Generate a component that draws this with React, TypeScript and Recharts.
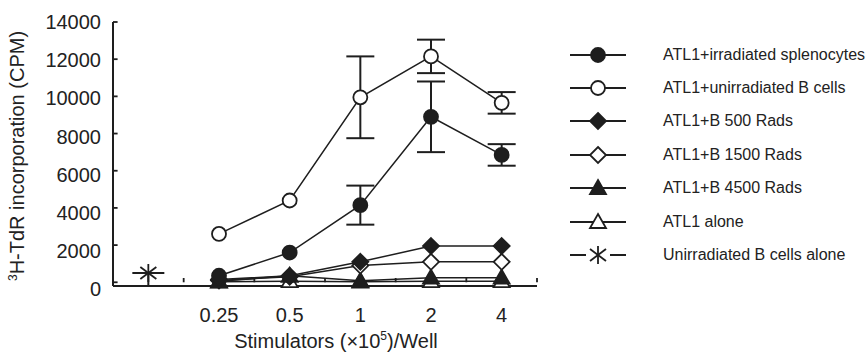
import React from "react"
import { LineChart, Line, XAxis, YAxis, ErrorBar, ReferenceLine, Label } from "recharts"

const doses = ["0.25", "0.5", "1", "2", "4"]
const doseX = [1.5, 2.5, 3.5, 4.5, 5.5]
const yTicks = [0, 2000, 4000, 6000, 8000, 10000, 12000, 14000]

const irradiatedSplenocytes = [350, 1600, 4150, 8900, 6850]
const irradiatedSplenocytesErr = [0, 0, 1050, 1900, 580]
const unirradiatedB = [2600, 4400, 9950, 12150, 9650]
const unirradiatedBErr = [0, 0, 2200, 900, 580]
const b500 = [150, 350, 1100, 1950, 1950]
const b1500 = [100, 300, 900, 1100, 1100]
const b4500 = [50, 350, 80, 250, 250]
const atl1Alone = [30, 60, 30, 60, 60]
const bAlone = [500]

const INK = "#1e1e1e"
const FONT = "'Liberation Sans', Arial, sans-serif"

const rows = doseX.map((x, i) => ({
  x,
  irr: irradiatedSplenocytes[i],
  irrErr: irradiatedSplenocytesErr[i],
  unirr: unirradiatedB[i],
  unirrErr: unirradiatedBErr[i],
  b500: b500[i],
  b1500: b1500[i],
  b4500: b4500[i],
  alone: atl1Alone[i],
}))
const starRows = bAlone.map((y) => ({ x: 0.5, y, err: [700, 0] }))

type Kind = "circle" | "openCircle" | "diamond" | "openDiamond" | "triangle" | "openTriangle" | "star"

function Marker({ kind, cx, cy }: { kind: Kind; cx: number; cy: number }) {
  const fill = kind.startsWith("open") ? "#fff" : INK
  if (kind === "circle" || kind === "openCircle")
    return <circle cx={cx} cy={cy} r={7} fill={fill} stroke={INK} strokeWidth={1.8} />
  if (kind === "diamond" || kind === "openDiamond")
    return (
      <polygon
        points={`${cx},${cy - 8} ${cx + 8},${cy} ${cx},${cy + 8} ${cx - 8},${cy}`}
        fill={fill}
        stroke={INK}
        strokeWidth={1.8}
      />
    )
  if (kind === "triangle" || kind === "openTriangle")
    return (
      <polygon
        points={`${cx},${cy - 8} ${cx + 8},${cy + 6} ${cx - 8},${cy + 6}`}
        fill={fill}
        stroke={INK}
        strokeWidth={1.8}
      />
    )
  return (
    <g stroke={INK} strokeWidth={1.8}>
      <line x1={cx} y1={cy - 9} x2={cx} y2={cy + 9} />
      <line x1={cx - 8} y1={cy - 6} x2={cx + 8} y2={cy + 6} />
      <line x1={cx - 8} y1={cy + 6} x2={cx + 8} y2={cy - 6} />
    </g>
  )
}

const dotOf = (kind: Kind) => (p: any) => <Marker key={`${kind}-${p.index}`} kind={kind} cx={p.cx} cy={p.cy} />

// y labels in the figure drift a few px below their ticks toward the bottom
function YTick(props: any) {
  const { x, y, payload } = props
  const shift = ((14000 - payload.value) / 14000) * 7
  return (
    <text
      x={x}
      y={y + shift}
      dy="0.355em"
      textAnchor="end"
      style={{ fontFamily: FONT, fontSize: 20, fill: "#222" }}
    >
      {payload.value}
    </text>
  )
}

const legendItems: { name: string; kind: Kind }[] = [
  { name: "ATL1+irradiated splenocytes", kind: "circle" },
  { name: "ATL1+unirradiated B cells", kind: "openCircle" },
  { name: "ATL1+B 500 Rads", kind: "diamond" },
  { name: "ATL1+B 1500 Rads", kind: "openDiamond" },
  { name: "ATL1+B 4500 Rads", kind: "triangle" },
  { name: "ATL1 alone", kind: "openTriangle" },
  { name: "Unirradiated B cells alone", kind: "star" },
]

function ChartLegend() {
  return (
    <div
      style={{
        position: "absolute",
        left: 566,
        top: 38,
        width: 301,
        whiteSpace: "nowrap",
        fontFamily: FONT,
        fontSize: 16,
        color: "#222",
      }}
    >
      {legendItems.map((it) => (
        <div key={it.name} style={{ display: "flex", alignItems: "center", height: 33.4 }}>
          <svg width={64} height={22} style={{ marginRight: 33, flex: "none" }}>
            {it.kind === "star" ? (
              <>
                <line x1={4} y1={11} x2={20} y2={11} stroke={INK} strokeWidth={2} />
                <line x1={44} y1={11} x2={60} y2={11} stroke={INK} strokeWidth={2} />
              </>
            ) : (
              <line x1={4} y1={11} x2={60} y2={11} stroke={INK} strokeWidth={2} />
            )}
            <Marker kind={it.kind} cx={32} cy={11} />
          </svg>
          <span>{it.name}</span>
        </div>
      ))}
    </div>
  )
}

export default function App() {
  const tickStyle = { fontFamily: FONT, fontSize: 20, fill: "#222" }
  return (
    <div style={{ position: "absolute", left: 0, top: 0, width: 867, height: 361, background: "#fff" }}>
      <LineChart width={867} height={361} margin={{ top: 22, right: 330, bottom: 0, left: 0 }}>
        <XAxis
          dataKey="x"
          type="number"
          domain={[0, 6]}
          ticks={doseX}
          tickFormatter={(v: number) => doses[doseX.indexOf(v)] ?? ""}
          tickLine={false}
          tickSize={0}
          tickMargin={22}
          height={75}
          axisLine={{ stroke: INK, strokeWidth: 2 }}
          tick={tickStyle}
          allowDataOverflow
        >
          <Label
            content={() => (
              <text x={336} y={348} textAnchor="middle" style={{ fontFamily: FONT, fontSize: 20, fill: "#222" }}>
                Stimulators (×10
                <tspan dy={-8} fontSize={12}>5</tspan>
                <tspan dy={8}>)/Well</tspan>
              </text>
            )}
          />
        </XAxis>
        <YAxis
          type="number"
          domain={[0, 14000]}
          ticks={yTicks}
          width={113}
          tickLine={false}
          tickSize={0}
          tickMargin={12}
          axisLine={{ stroke: INK, strokeWidth: 2 }}
          tick={<YTick />}
        >
          <Label
            content={() => (
              <text
                x={24}
                y={156}
                textAnchor="middle"
                transform="rotate(-90 24 156)"
                style={{ fontFamily: FONT, fontSize: 20, fill: "#222" }}
              >
                <tspan dy={-7} fontSize={12}>3</tspan>
                <tspan dy={7}>H-TdR incorporation (CPM)</tspan>
              </text>
            )}
          />
        </YAxis>
        {[1, 2, 3, 4, 5, 6].map((x) => (
          <ReferenceLine key={`xt${x}`} segment={[{ x, y: 0 }, { x, y: 230 }]} stroke={INK} strokeWidth={1.8} />
        ))}
        {yTicks.map((y) => (
          <ReferenceLine key={`yt${y}`} segment={[{ x: 0, y }, { x: 0.065, y }]} stroke={INK} strokeWidth={1.8} />
        ))}
        <Line data={rows} dataKey="alone" stroke={INK} strokeWidth={1.5} dot={dotOf("openTriangle")} isAnimationActive={false} />
        <Line data={rows} dataKey="b4500" stroke={INK} strokeWidth={1.5} dot={dotOf("triangle")} isAnimationActive={false} />
        <Line data={rows} dataKey="b1500" stroke={INK} strokeWidth={1.5} dot={dotOf("openDiamond")} isAnimationActive={false} />
        <Line data={rows} dataKey="b500" stroke={INK} strokeWidth={1.5} dot={dotOf("diamond")} isAnimationActive={false} />
        <Line data={rows} dataKey="irr" stroke={INK} strokeWidth={1.5} dot={dotOf("circle")} isAnimationActive={false}>
          <ErrorBar dataKey="irrErr" width={14} stroke={INK} strokeWidth={2} direction="y" />
        </Line>
        <Line data={rows} dataKey="unirr" stroke={INK} strokeWidth={1.5} dot={dotOf("openCircle")} isAnimationActive={false}>
          <ErrorBar dataKey="unirrErr" width={14} stroke={INK} strokeWidth={2} direction="y" />
        </Line>
        <Line data={starRows} dataKey="y" stroke="none" dot={dotOf("star")} isAnimationActive={false}>
          <ErrorBar dataKey="err" width={16} stroke={INK} strokeWidth={2} direction="y" />
        </Line>
      </LineChart>
      <ChartLegend />
    </div>
  )
}
